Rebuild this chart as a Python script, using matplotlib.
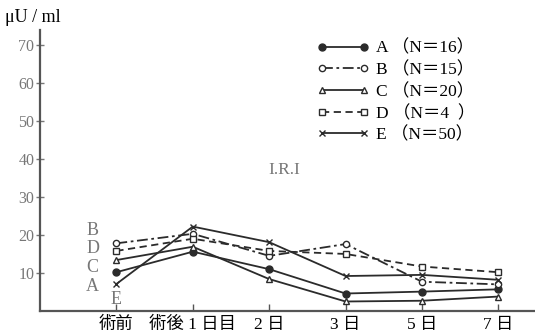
import matplotlib
matplotlib.use("Agg")
import matplotlib.pyplot as plt

plt.rcParams['font.family'] = ['Liberation Serif', 'Noto Sans CJK JP', 'DejaVu Sans']

# Time points and tick labels
timepoints = ["術前", "術後 1 日目", "2 日", "3 日", "5 日", "7 日"]

# I.R.I (μU/ml) per group
series_names = ["A （N＝16）", "B （N＝15）", "C （N＝20）", "D （N＝4  ）", "E （N＝50）"]
a_vals = [10.2, 15.6, 11.0, 4.6, 5.1, 5.7]
b_vals = [17.8, 20.3, 14.5, 17.6, 7.7, 7.0]
c_vals = [13.4, 16.9, 8.4, 2.5, 2.7, 3.8]
d_vals = [15.8, 19.0, 15.8, 15.0, 11.7, 10.2]
e_vals = [7.1, 22.2, 18.1, 9.2, 9.5, 8.2]

y_ticks = [10, 20, 30, 40, 50, 60, 70]

ink = "#2b2b2b"
styles = [
    dict(linestyle="-", marker="o", mfc=ink, ms=5),
    dict(linestyle=(0, (6, 2, 1.5, 2)), marker="o", mfc="white", ms=4.5),
    dict(linestyle="-", marker="^", mfc="white", ms=5),
    dict(linestyle=(0, (4, 2.5)), marker="s", mfc="white", ms=4.5),
    dict(linestyle="-", marker="x", mfc=ink, ms=5),
]

fig = plt.figure(figsize=(5.35, 3.36), dpi=100)
ax = fig.add_axes([40 / 535, 25 / 336, 495 / 535, 281 / 336])

x = list(range(len(timepoints)))
handles = []
for vals, name, st in zip([a_vals, b_vals, c_vals, d_vals, e_vals], series_names, styles):
    ln, = ax.plot(x, vals, color=ink, lw=1.3, mec=ink, mew=1.0, label=name, **st)
    handles.append(ln)

ax.set_xlim(-1.0, 5.48)
ax.set_ylim(0, 73.9)

for side in ["top", "right"]:
    ax.spines[side].set_visible(False)
for side in ["left", "bottom"]:
    ax.spines[side].set_color("#555555")
    ax.spines[side].set_linewidth(1.6)

ax.set_yticks(y_ticks)
ax.set_yticklabels([str(v) for v in y_ticks], fontsize=11.5, color="#777777")
ax.tick_params(axis="y", direction="inout", length=6, width=1, color="#777777", pad=1)

ax.set_xticks(x)
ax.set_xticklabels(timepoints, fontsize=12.5, color="black")
ax.tick_params(axis="x", direction="in", length=5, width=1, color="#555555", pad=4)

# Group letters beside the pre-op points
for letter, yv in zip(["B", "D", "C", "A"], [21.3, 16.5, 11.5, 6.5]):
    ax.text(-0.31, yv, letter, fontsize=13, color="#777777", ha="center", va="center")
ax.text(0.0, 2.9, "E", fontsize=13, color="#777777", ha="center", va="center")

ax.text(2.2, 37.0, "I.R.I", fontsize=12.5, color="#777777", ha="center", va="center")

fig.text(5 / 535, 1 - 18 / 336, "μU / ml", fontsize=13, ha="left", va="center")

ax.legend(handles=handles, loc="upper left", bbox_to_anchor=(0.542, 0.995),
          frameon=False, handlelength=3.0, numpoints=2, fontsize=12.5,
          labelspacing=0.3, handletextpad=0.4, borderpad=0)

fig.savefig("out.png", dpi=100)
